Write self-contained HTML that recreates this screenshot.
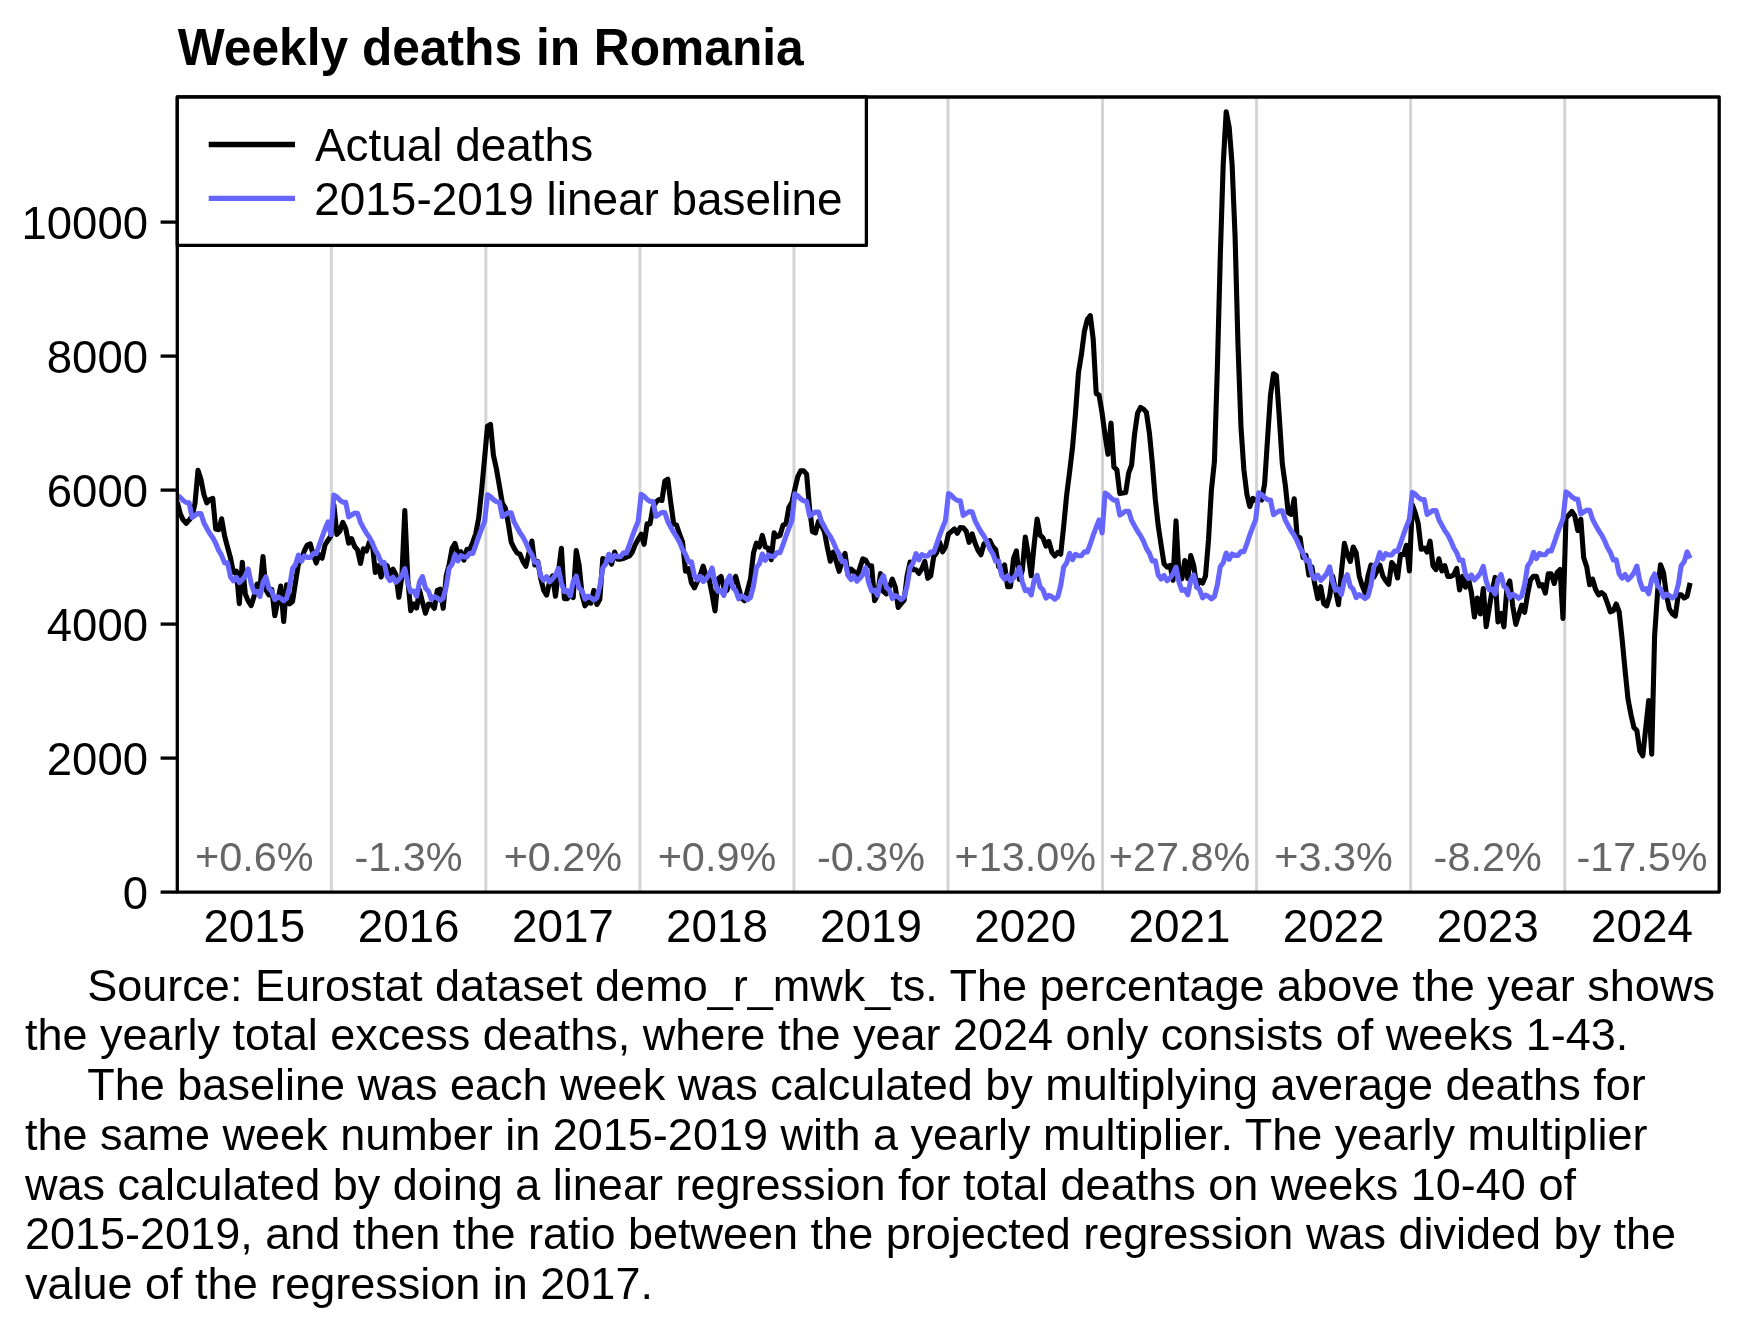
<!DOCTYPE html>
<html><head><meta charset="utf-8"><title>Weekly deaths in Romania</title>
<style>html,body{margin:0;padding:0;background:#fff;width:1740px;height:1330px;overflow:hidden}svg{display:block;will-change:transform}text{font-family:"Liberation Sans",sans-serif}</style>
</head><body>
<svg width="1740" height="1330" viewBox="0 0 1740 1330" font-family="Liberation Sans, sans-serif"><rect x="0" y="0" width="1740" height="1330" fill="#fff"/>
<line x1="331.36" y1="97" x2="331.36" y2="892" stroke="#d4d4d4" stroke-width="3"/>
<line x1="485.85" y1="97" x2="485.85" y2="892" stroke="#d4d4d4" stroke-width="3"/>
<line x1="639.91" y1="97" x2="639.91" y2="892" stroke="#d4d4d4" stroke-width="3"/>
<line x1="793.98" y1="97" x2="793.98" y2="892" stroke="#d4d4d4" stroke-width="3"/>
<line x1="948.04" y1="97" x2="948.04" y2="892" stroke="#d4d4d4" stroke-width="3"/>
<line x1="1102.52" y1="97" x2="1102.52" y2="892" stroke="#d4d4d4" stroke-width="3"/>
<line x1="1256.59" y1="97" x2="1256.59" y2="892" stroke="#d4d4d4" stroke-width="3"/>
<line x1="1410.65" y1="97" x2="1410.65" y2="892" stroke="#d4d4d4" stroke-width="3"/>
<line x1="1564.71" y1="97" x2="1564.71" y2="892" stroke="#d4d4d4" stroke-width="3"/>
<defs><clipPath id="pc"><rect x="177.3" y="97" width="1541.90" height="795.10"/></clipPath></defs>
<g clip-path="url(#pc)"><g fill="none" stroke-linejoin="round" stroke-linecap="butt"><polyline points="177.3,502.2 180.3,513.7 183.2,520.1 186.2,523.3 189.1,520.1 192.1,516.3 195.0,503.5 198.0,470.2 200.9,479.2 203.9,494.5 206.8,502.8 209.8,499.6 212.8,498.4 215.7,529.1 218.7,529.7 221.6,518.8 224.6,536.0 227.5,547.0 230.5,558.0 233.4,572.5 236.4,571.1 239.3,603.6 242.3,562.3 245.3,594.1 248.2,600.9 251.2,605.6 254.1,596.2 257.1,584.0 260.0,587.4 263.0,556.5 265.9,590.0 268.9,594.8 271.8,589.4 274.8,615.8 277.8,600.9 280.7,586.0 283.7,621.5 286.6,584.7 289.6,603.9 292.5,601.5 295.5,582.3 298.4,564.2 301.4,559.4 304.3,551.0 307.3,545.0 310.3,543.8 313.2,554.6 316.2,563.0 319.1,554.6 322.1,558.2 325.0,545.0 328.0,540.2 330.9,536.0 333.9,505.0 336.9,534.4 339.8,531.1 342.8,522.3 345.7,528.5 348.7,543.2 351.6,538.6 354.6,546.5 357.5,549.9 360.5,563.5 363.4,548.8 366.4,551.0 369.4,542.0 372.3,543.2 375.3,572.5 378.2,565.7 381.2,577.0 384.1,564.6 387.1,565.7 390.0,575.9 393.0,569.1 395.9,574.7 398.9,597.3 401.9,575.9 404.8,510.5 407.8,579.2 410.7,610.8 413.7,604.0 416.6,608.0 419.6,590.3 422.5,602.3 425.5,613.2 428.4,604.0 431.4,604.7 434.4,608.3 437.3,590.3 440.3,589.1 443.2,608.3 446.2,575.9 449.1,565.0 452.1,548.2 455.0,543.4 458.0,554.2 460.9,551.8 463.9,560.2 466.9,549.4 469.8,549.4 472.8,542.2 475.7,533.8 478.7,518.1 481.6,490.5 484.6,458.0 487.5,426.2 490.5,424.4 493.4,455.1 496.4,468.7 499.4,486.0 502.3,503.0 505.3,508.0 508.2,523.0 511.2,542.2 514.1,548.2 517.1,553.0 520.0,554.2 523.0,561.4 525.9,566.2 528.9,553.0 531.9,541.0 534.8,565.0 537.8,561.4 540.7,578.3 543.7,590.3 546.6,595.1 549.6,581.9 552.5,575.9 555.5,596.3 558.4,572.0 561.4,548.2 564.4,598.7 567.3,598.7 570.3,595.1 573.2,597.5 576.2,550.6 579.1,565.0 582.1,595.0 585.0,605.8 588.0,601.9 590.9,603.2 593.9,590.4 596.9,604.5 599.8,599.4 602.8,558.5 605.7,561.0 608.7,559.7 611.6,564.2 614.6,552.1 617.5,559.1 620.5,559.1 623.5,558.5 626.4,557.2 629.4,555.9 632.3,552.1 635.3,544.4 638.2,539.3 641.2,534.2 644.1,544.4 647.1,523.9 650.0,523.9 653.0,507.3 656.0,502.2 658.9,499.6 661.9,500.5 664.8,481.1 667.8,479.2 670.7,502.2 673.7,523.9 676.6,525.2 679.6,534.2 682.5,541.8 685.5,571.3 688.5,568.7 691.4,582.8 694.4,587.9 697.3,581.5 700.3,575.1 703.2,566.1 706.2,576.4 709.1,578.9 712.1,594.3 715.0,610.9 718.0,578.9 721.0,576.4 723.9,587.9 726.9,590.4 729.8,581.5 732.8,582.8 735.7,576.4 738.7,587.9 741.6,598.1 744.6,600.7 747.5,590.4 750.5,579.0 753.5,553.0 756.4,543.1 759.4,547.0 762.3,535.4 765.3,547.0 768.2,548.2 771.2,559.7 774.1,532.9 777.1,536.7 780.0,535.4 783.0,525.2 786.0,523.9 788.9,507.3 791.9,502.2 794.8,489.4 797.8,476.6 800.7,470.9 803.7,470.9 806.6,474.1 809.6,508.6 812.5,531.6 815.5,532.9 818.5,521.4 821.4,525.5 824.4,531.5 827.3,547.0 830.3,561.2 833.2,552.2 836.2,561.2 839.1,571.4 842.1,561.2 845.0,553.3 848.0,574.7 851.0,569.1 853.9,571.4 856.9,577.0 859.8,568.0 862.8,558.9 865.7,560.1 868.7,565.7 871.6,565.7 874.6,600.7 877.5,595.0 880.5,573.6 883.5,591.6 886.4,593.9 889.4,587.1 892.3,579.2 895.3,587.1 898.2,607.4 901.2,603.5 904.1,600.3 907.1,575.9 910.1,562.0 913.0,569.8 916.0,569.8 918.9,573.5 921.9,568.6 924.8,561.4 927.8,578.3 930.7,575.9 933.7,556.6 936.6,553.0 939.6,542.2 942.6,551.8 945.5,547.0 948.5,534.0 951.4,531.6 954.4,528.9 957.3,533.2 960.3,527.5 963.2,527.8 966.2,531.2 969.1,542.3 972.1,533.8 975.1,543.3 978.0,550.3 981.0,554.7 983.9,544.0 986.9,542.2 989.8,540.6 992.8,546.7 995.7,549.5 998.7,566.8 1001.6,568.6 1004.6,565.0 1007.6,586.6 1010.5,586.6 1013.5,558.7 1016.4,551.0 1019.4,579.4 1022.3,570.4 1025.3,537.0 1028.2,554.2 1031.2,575.8 1034.1,545.1 1037.1,519.0 1040.1,535.2 1043.0,537.9 1046.0,546.0 1048.9,541.5 1051.9,552.3 1054.8,556.0 1057.8,552.3 1060.7,554.2 1063.7,526.0 1066.6,495.5 1069.6,472.0 1072.6,446.6 1075.5,413.4 1078.5,372.3 1081.4,354.7 1084.4,331.3 1087.3,319.5 1090.3,315.6 1093.2,339.1 1096.2,393.7 1099.1,395.0 1102.1,413.2 1105.1,435.7 1108.0,454.3 1111.0,423.0 1113.9,467.0 1116.9,469.9 1119.8,493.4 1122.8,493.0 1125.7,492.4 1128.7,472.9 1131.6,465.0 1134.6,433.8 1137.6,413.2 1140.5,407.4 1143.5,409.1 1146.4,412.4 1149.4,433.1 1152.3,462.9 1155.3,499.3 1158.2,525.7 1161.2,545.6 1164.1,563.8 1167.1,567.1 1170.1,565.4 1173.0,580.3 1176.0,520.8 1178.9,573.7 1181.9,578.7 1184.8,560.5 1187.8,578.7 1190.7,555.5 1193.7,565.4 1196.7,586.9 1199.6,580.3 1202.6,583.0 1205.5,576.0 1208.5,540.0 1211.4,490.2 1214.4,461.8 1217.3,370.0 1220.3,255.8 1223.2,164.5 1226.2,111.7 1229.2,127.4 1232.1,164.5 1235.1,237.0 1238.0,345.0 1241.0,427.3 1243.9,470.0 1246.9,494.3 1249.8,506.5 1252.8,498.3 1255.7,500.4 1258.7,498.6 1261.7,500.0 1264.6,484.0 1267.6,438.2 1270.5,395.2 1273.5,373.7 1276.4,375.6 1279.4,418.7 1282.3,463.6 1285.3,485.1 1288.2,512.5 1291.2,514.4 1294.2,498.8 1297.1,536.0 1300.1,537.9 1303.0,557.5 1306.0,555.5 1308.9,575.0 1311.9,567.0 1314.8,584.3 1317.8,598.7 1320.7,586.7 1323.7,603.5 1326.7,605.9 1329.6,596.3 1332.6,575.9 1335.5,590.3 1338.5,604.7 1341.4,572.3 1344.4,543.4 1347.3,554.2 1350.3,561.4 1353.2,547.0 1356.2,553.0 1359.2,575.9 1362.1,585.5 1365.1,592.7 1368.0,575.9 1371.0,565.0 1373.9,577.1 1376.9,571.0 1379.8,565.0 1382.8,575.9 1385.7,580.7 1388.7,584.3 1391.7,562.6 1394.6,566.2 1397.6,578.0 1400.5,554.5 1403.5,554.7 1406.4,545.3 1409.4,571.0 1412.3,504.7 1415.3,513.0 1418.2,523.6 1421.2,549.3 1424.2,548.0 1427.1,552.0 1430.1,541.2 1433.0,565.6 1436.0,569.6 1438.9,558.8 1441.9,571.0 1444.8,565.6 1447.8,576.4 1450.7,576.4 1453.7,575.0 1456.7,568.3 1459.6,589.9 1462.6,576.4 1465.5,587.2 1468.5,579.1 1471.4,592.6 1474.4,617.0 1477.3,598.0 1480.3,613.9 1483.3,588.5 1486.2,626.7 1489.2,608.0 1492.1,591.0 1495.1,577.4 1498.0,622.0 1501.0,613.5 1503.9,626.8 1506.9,588.3 1509.8,581.0 1512.8,606.3 1515.8,624.4 1518.7,614.7 1521.7,605.1 1524.6,612.3 1527.6,594.3 1530.5,579.8 1533.5,576.2 1536.4,576.2 1539.4,585.9 1542.3,584.7 1545.3,593.1 1548.3,573.8 1551.2,573.8 1554.2,583.5 1557.1,572.6 1560.1,569.5 1563.0,618.5 1566.0,518.0 1568.9,515.0 1571.9,511.4 1574.8,515.9 1577.8,530.6 1580.8,519.3 1583.7,557.7 1586.7,566.7 1589.6,584.7 1592.6,579.1 1595.5,589.2 1598.5,594.9 1601.4,592.6 1604.4,594.9 1607.3,602.8 1610.3,611.8 1613.3,610.7 1616.2,604.0 1619.2,612.0 1622.1,639.0 1625.1,670.5 1628.0,699.0 1631.0,714.7 1633.9,727.4 1636.9,730.5 1639.8,751.0 1642.8,755.8 1645.8,727.4 1648.7,700.5 1651.7,754.2 1654.6,635.8 1657.6,591.6 1660.5,564.7 1663.5,572.6 1666.4,594.7 1669.4,609.0 1672.3,613.7 1675.3,616.1 1678.3,594.7 1681.2,594.7 1684.2,597.9 1687.1,596.3 1690.1,582.9" stroke="#000" stroke-width="5.1"/><polyline points="177.3,495.5 180.3,497.4 183.2,500.5 186.2,502.5 189.1,502.8 192.1,517.4 195.0,515.4 198.0,513.5 200.9,513.6 203.9,522.7 206.8,528.2 209.8,533.5 212.8,537.8 215.7,543.3 218.7,550.4 221.6,555.4 224.6,562.9 227.5,562.7 230.5,576.8 233.4,580.9 236.4,577.4 239.3,582.6 242.3,579.6 245.3,575.8 248.2,569.0 251.2,583.6 254.1,592.2 257.1,591.3 260.0,596.5 263.0,582.2 265.9,576.9 268.9,588.5 271.8,591.4 274.8,599.7 277.8,596.8 280.7,598.3 283.7,600.7 286.6,598.3 289.6,587.0 292.5,568.6 295.5,564.6 298.4,555.0 301.4,561.3 304.3,556.0 307.3,557.4 310.3,557.4 313.2,553.5 316.2,553.7 319.1,545.7 322.1,537.0 325.0,529.1 328.0,521.9 330.9,534.7 333.9,495.1 336.9,497.0 339.8,500.1 342.8,502.1 345.7,502.4 348.7,517.0 351.6,515.0 354.6,513.1 357.5,513.2 360.5,522.3 363.4,527.9 366.4,533.1 369.4,537.4 372.3,543.0 375.3,550.1 378.2,555.0 381.2,562.6 384.1,562.3 387.1,576.5 390.0,580.5 393.0,577.1 395.9,582.2 398.9,579.3 401.9,575.5 404.8,568.7 407.8,583.3 410.7,591.9 413.7,591.0 416.6,596.2 419.6,581.8 422.5,576.6 425.5,588.2 428.4,591.1 431.4,599.4 434.4,596.5 437.3,598.0 440.3,600.4 443.2,598.0 446.2,586.7 449.1,568.3 452.1,564.3 455.0,554.7 458.0,560.9 460.9,555.6 463.9,557.0 466.9,557.0 469.8,553.2 472.8,553.4 475.7,545.4 478.7,536.6 481.6,528.8 484.6,521.5 487.5,494.7 490.5,496.6 493.4,499.7 496.4,501.7 499.4,502.0 502.3,516.6 505.3,514.6 508.2,512.7 511.2,512.8 514.1,521.9 517.1,527.5 520.0,532.8 523.0,537.1 525.9,542.6 528.9,549.7 531.9,554.7 534.8,562.3 537.8,562.0 540.7,576.1 543.7,580.2 546.6,576.7 549.6,581.9 552.5,578.9 555.5,575.2 558.4,568.4 561.4,583.0 564.4,591.6 567.3,590.7 570.3,595.9 573.2,581.5 576.2,576.2 579.1,587.9 582.1,590.8 585.0,599.1 588.0,596.2 590.9,597.7 593.9,600.1 596.9,597.7 599.8,586.4 602.8,568.0 605.7,564.0 608.7,554.3 611.6,560.6 614.6,555.3 617.5,556.7 620.5,556.7 623.5,552.8 626.4,553.0 629.4,545.0 632.3,536.3 635.3,528.4 638.2,521.1 641.2,494.3 644.1,496.2 647.1,499.3 650.0,501.3 653.0,501.6 656.0,516.3 658.9,514.3 661.9,512.4 664.8,512.5 667.8,521.5 670.7,527.1 673.7,532.4 676.6,536.7 679.6,542.3 682.5,549.4 685.5,554.4 688.5,562.0 691.4,561.7 694.4,575.8 697.3,579.9 700.3,576.4 703.2,581.6 706.2,578.6 709.1,574.8 712.1,568.0 715.0,582.7 718.0,591.3 721.0,590.4 723.9,595.6 726.9,581.2 729.8,575.9 732.8,587.6 735.7,590.5 738.7,598.8 741.6,595.9 744.6,597.4 747.5,599.8 750.5,597.4 753.5,586.1 756.4,567.6 759.4,563.7 762.3,554.0 765.3,560.3 768.2,555.0 771.2,556.4 774.1,556.4 777.1,552.5 780.0,552.7 783.0,544.7 786.0,535.9 788.9,528.0 791.9,520.7 794.8,493.9 797.8,495.8 800.7,498.9 803.7,500.9 806.6,501.2 809.6,515.9 812.5,513.9 815.5,512.0 818.5,512.1 821.4,521.2 824.4,526.8 827.3,532.1 830.3,536.4 833.2,541.9 836.2,549.0 839.1,554.0 842.1,561.6 845.0,561.3 848.0,575.5 851.0,579.6 853.9,576.1 856.9,581.3 859.8,578.3 862.8,574.5 865.7,567.7 868.7,582.4 871.6,591.0 874.6,590.1 877.5,595.3 880.5,580.9 883.5,575.6 886.4,587.3 889.4,590.2 892.3,598.5 895.3,595.6 898.2,597.1 901.2,599.5 904.1,597.1 907.1,585.8 910.1,567.3 913.0,563.3 916.0,553.6 918.9,559.9 921.9,554.6 924.8,556.0 927.8,556.0 930.7,552.1 933.7,552.3 936.6,544.3 939.6,535.6 942.6,527.7 945.5,520.4 948.5,493.5 951.4,495.4 954.4,498.5 957.3,500.5 960.3,500.8 963.2,515.5 966.2,513.5 969.1,511.6 972.1,511.7 975.1,520.8 978.0,526.4 981.0,531.7 983.9,536.0 986.9,541.6 989.8,548.7 992.8,553.7 995.7,561.3 998.7,561.0 1001.6,575.2 1004.6,579.3 1007.6,575.8 1010.5,581.0 1013.5,578.0 1016.4,574.2 1019.4,567.4 1022.3,582.1 1025.3,590.7 1028.2,589.8 1031.2,595.0 1034.1,580.6 1037.1,575.3 1040.1,587.0 1043.0,589.9 1046.0,598.2 1048.9,595.3 1051.9,596.8 1054.8,599.2 1057.8,596.8 1060.7,585.5 1063.7,567.0 1066.6,563.0 1069.6,553.3 1072.6,559.6 1075.5,554.3 1078.5,555.7 1081.4,555.7 1084.4,551.8 1087.3,552.0 1090.3,544.0 1093.2,535.2 1096.2,527.3 1099.1,520.0 1102.1,532.9 1105.1,493.1 1108.0,495.0 1111.0,498.1 1113.9,500.1 1116.9,500.4 1119.8,515.1 1122.8,513.1 1125.7,511.2 1128.7,511.3 1131.6,520.4 1134.6,526.0 1137.6,531.3 1140.5,535.6 1143.5,541.3 1146.4,548.4 1149.4,553.4 1152.3,561.0 1155.3,560.7 1158.2,574.9 1161.2,579.0 1164.1,575.5 1167.1,580.7 1170.1,577.7 1173.0,573.9 1176.0,567.1 1178.9,581.8 1181.9,590.4 1184.8,589.5 1187.8,594.7 1190.7,580.3 1193.7,575.0 1196.7,586.7 1199.6,589.6 1202.6,597.9 1205.5,595.0 1208.5,596.5 1211.4,598.9 1214.4,596.5 1217.3,585.2 1220.3,566.7 1223.2,562.7 1226.2,553.0 1229.2,559.3 1232.1,554.0 1235.1,555.4 1238.0,555.4 1241.0,551.5 1243.9,551.7 1246.9,543.7 1249.8,534.8 1252.8,526.9 1255.7,519.6 1258.7,492.7 1261.7,494.6 1264.6,497.7 1267.6,499.7 1270.5,500.0 1273.5,514.7 1276.4,512.7 1279.4,510.8 1282.3,510.9 1285.3,520.1 1288.2,525.7 1291.2,531.0 1294.2,535.3 1297.1,540.9 1300.1,548.0 1303.0,553.0 1306.0,560.6 1308.9,560.3 1311.9,574.6 1314.8,578.7 1317.8,575.2 1320.7,580.4 1323.7,577.4 1326.7,573.6 1329.6,566.8 1332.6,581.5 1335.5,590.1 1338.5,589.2 1341.4,594.4 1344.4,580.0 1347.3,574.7 1350.3,586.4 1353.2,589.3 1356.2,597.6 1359.2,594.7 1362.1,596.2 1365.1,598.6 1368.0,596.2 1371.0,584.9 1373.9,566.4 1376.9,562.3 1379.8,552.6 1382.8,558.9 1385.7,553.6 1388.7,555.0 1391.7,555.0 1394.6,551.1 1397.6,551.3 1400.5,543.3 1403.5,534.5 1406.4,526.6 1409.4,519.3 1412.3,492.3 1415.3,494.2 1418.2,497.3 1421.2,499.3 1424.2,499.6 1427.1,514.4 1430.1,512.4 1433.0,510.5 1436.0,510.6 1438.9,519.7 1441.9,525.3 1444.8,530.6 1447.8,534.9 1450.7,540.6 1453.7,547.7 1456.7,552.7 1459.6,560.3 1462.6,560.0 1465.5,574.3 1468.5,578.4 1471.4,574.9 1474.4,580.1 1477.3,577.1 1480.3,573.2 1483.3,566.4 1486.2,581.2 1489.2,589.8 1492.1,588.9 1495.1,594.1 1498.0,579.7 1501.0,574.4 1503.9,586.1 1506.9,589.0 1509.8,597.3 1512.8,594.4 1515.8,595.9 1518.7,598.3 1521.7,595.9 1524.6,584.6 1527.6,566.0 1530.5,562.0 1533.5,552.3 1536.4,558.6 1539.4,553.3 1542.3,554.7 1545.3,554.7 1548.3,550.8 1551.2,551.0 1554.2,543.0 1557.1,534.1 1560.1,526.2 1563.0,518.9 1566.0,491.9 1568.9,493.8 1571.9,496.9 1574.8,498.9 1577.8,499.2 1580.8,514.0 1583.7,512.0 1586.7,510.1 1589.6,510.2 1592.6,519.3 1595.5,524.9 1598.5,530.3 1601.4,534.6 1604.4,540.2 1607.3,547.3 1610.3,552.4 1613.3,560.0 1616.2,559.7 1619.2,573.9 1622.1,578.1 1625.1,574.5 1628.0,579.8 1631.0,576.7 1633.9,572.9 1636.9,566.1 1639.8,580.9 1642.8,589.5 1645.8,588.6 1648.7,593.8 1651.7,579.4 1654.6,574.0 1657.6,585.8 1660.5,588.7 1663.5,597.0 1666.4,594.1 1669.4,595.6 1672.3,598.0 1675.3,595.6 1678.3,584.3 1681.2,565.7 1684.2,561.7 1687.1,551.9 1690.1,558.3" stroke="#6666ff" stroke-width="5.1"/></g></g>
<rect x="177.3" y="97" width="1541.90" height="795.10" fill="none" stroke="#000" stroke-width="3.3" stroke-linejoin="round"/>
<rect x="177.3" y="97" width="689.10" height="148.40" fill="#fff" stroke="#000" stroke-width="3.3" stroke-linejoin="round"/>
<line x1="208.7" y1="144.5" x2="295" y2="144.5" stroke="#000" stroke-width="5.3"/>
<line x1="208.7" y1="198.3" x2="295" y2="198.3" stroke="#6666ff" stroke-width="5.3"/>
<text transform="translate(315.0,160.9) scale(1,1.0)" font-size="45.9" text-anchor="start" fill="#000" font-weight="normal">Actual deaths</text>
<text transform="translate(314.3,214.6) scale(1,1.0)" font-size="45.9" text-anchor="start" fill="#000" font-weight="normal">2015-2019 linear baseline</text>
<line x1="160.6" y1="892.10" x2="177.3" y2="892.10" stroke="#000" stroke-width="3.3"/>
<text transform="translate(148.0,909.1) scale(1,1.0)" font-size="45.5" text-anchor="end" fill="#000" font-weight="normal">0</text>
<line x1="160.6" y1="758.10" x2="177.3" y2="758.10" stroke="#000" stroke-width="3.3"/>
<text transform="translate(148.0,775.1) scale(1,1.0)" font-size="45.5" text-anchor="end" fill="#000" font-weight="normal">2000</text>
<line x1="160.6" y1="624.10" x2="177.3" y2="624.10" stroke="#000" stroke-width="3.3"/>
<text transform="translate(148.0,641.1) scale(1,1.0)" font-size="45.5" text-anchor="end" fill="#000" font-weight="normal">4000</text>
<line x1="160.6" y1="490.10" x2="177.3" y2="490.10" stroke="#000" stroke-width="3.3"/>
<text transform="translate(148.0,507.1) scale(1,1.0)" font-size="45.5" text-anchor="end" fill="#000" font-weight="normal">6000</text>
<line x1="160.6" y1="356.10" x2="177.3" y2="356.10" stroke="#000" stroke-width="3.3"/>
<text transform="translate(148.0,373.1) scale(1,1.0)" font-size="45.5" text-anchor="end" fill="#000" font-weight="normal">8000</text>
<line x1="160.6" y1="222.10" x2="177.3" y2="222.10" stroke="#000" stroke-width="3.3"/>
<text transform="translate(148.0,239.10000000000002) scale(1,1.0)" font-size="45.5" text-anchor="end" fill="#000" font-weight="normal">10000</text>
<text transform="translate(254.33,942.0) scale(1,1.0)" font-size="45.8" text-anchor="middle" fill="#000" font-weight="normal">2015</text>
<text transform="translate(254.33,871.2) scale(1,1.0)" font-size="41.4" text-anchor="middle" fill="#666" font-weight="normal">+0.6%</text>
<text transform="translate(408.61,942.0) scale(1,1.0)" font-size="45.8" text-anchor="middle" fill="#000" font-weight="normal">2016</text>
<text transform="translate(408.61,871.2) scale(1,1.0)" font-size="41.4" text-anchor="middle" fill="#666" font-weight="normal">-1.3%</text>
<text transform="translate(562.88,942.0) scale(1,1.0)" font-size="45.8" text-anchor="middle" fill="#000" font-weight="normal">2017</text>
<text transform="translate(562.88,871.2) scale(1,1.0)" font-size="41.4" text-anchor="middle" fill="#666" font-weight="normal">+0.2%</text>
<text transform="translate(716.94,942.0) scale(1,1.0)" font-size="45.8" text-anchor="middle" fill="#000" font-weight="normal">2018</text>
<text transform="translate(716.94,871.2) scale(1,1.0)" font-size="41.4" text-anchor="middle" fill="#666" font-weight="normal">+0.9%</text>
<text transform="translate(871.01,942.0) scale(1,1.0)" font-size="45.8" text-anchor="middle" fill="#000" font-weight="normal">2019</text>
<text transform="translate(871.01,871.2) scale(1,1.0)" font-size="41.4" text-anchor="middle" fill="#666" font-weight="normal">-0.3%</text>
<text transform="translate(1025.28,942.0) scale(1,1.0)" font-size="45.8" text-anchor="middle" fill="#000" font-weight="normal">2020</text>
<text transform="translate(1025.28,871.2) scale(1,1.0)" font-size="41.4" text-anchor="middle" fill="#666" font-weight="normal">+13.0%</text>
<text transform="translate(1179.56,942.0) scale(1,1.0)" font-size="45.8" text-anchor="middle" fill="#000" font-weight="normal">2021</text>
<text transform="translate(1179.56,871.2) scale(1,1.0)" font-size="41.4" text-anchor="middle" fill="#666" font-weight="normal">+27.8%</text>
<text transform="translate(1333.62,942.0) scale(1,1.0)" font-size="45.8" text-anchor="middle" fill="#000" font-weight="normal">2022</text>
<text transform="translate(1333.62,871.2) scale(1,1.0)" font-size="41.4" text-anchor="middle" fill="#666" font-weight="normal">+3.3%</text>
<text transform="translate(1487.68,942.0) scale(1,1.0)" font-size="45.8" text-anchor="middle" fill="#000" font-weight="normal">2023</text>
<text transform="translate(1487.68,871.2) scale(1,1.0)" font-size="41.4" text-anchor="middle" fill="#666" font-weight="normal">-8.2%</text>
<text transform="translate(1641.96,942.0) scale(1,1.0)" font-size="45.8" text-anchor="middle" fill="#000" font-weight="normal">2024</text>
<text transform="translate(1641.96,871.2) scale(1,1.0)" font-size="41.4" text-anchor="middle" fill="#666" font-weight="normal">-17.5%</text>
<text transform="translate(177.8,64.8) scale(1,1.03)" font-size="49.7" text-anchor="start" fill="#000" font-weight="bold">Weekly deaths in Romania</text>
<text transform="translate(87.3,1000.5) scale(1,1.0)" font-size="45" text-anchor="start" fill="#000" font-weight="normal">Source: Eurostat dataset demo_r_mwk_ts. The percentage above the year shows</text>
<text transform="translate(25.0,1050.25) scale(1,1.0)" font-size="45" text-anchor="start" fill="#000" font-weight="normal">the yearly total excess deaths, where the year 2024 only consists of weeks 1-43.</text>
<text transform="translate(87.3,1100.0) scale(1,1.0)" font-size="45" text-anchor="start" fill="#000" font-weight="normal">The baseline was each week was calculated by multiplying average deaths for</text>
<text transform="translate(25.0,1149.75) scale(1,1.0)" font-size="45" text-anchor="start" fill="#000" font-weight="normal">the same week number in 2015-2019 with a yearly multiplier. The yearly multiplier</text>
<text transform="translate(25.0,1199.5) scale(1,1.0)" font-size="45" text-anchor="start" fill="#000" font-weight="normal">was calculated by doing a linear regression for total deaths on weeks 10-40 of</text>
<text transform="translate(25.0,1249.25) scale(1,1.0)" font-size="45" text-anchor="start" fill="#000" font-weight="normal">2015-2019, and then the ratio between the projected regression was divided by the</text>
<text transform="translate(25.0,1299.0) scale(1,1.0)" font-size="45" text-anchor="start" fill="#000" font-weight="normal">value of the regression in 2017.</text></svg>
</body></html>
